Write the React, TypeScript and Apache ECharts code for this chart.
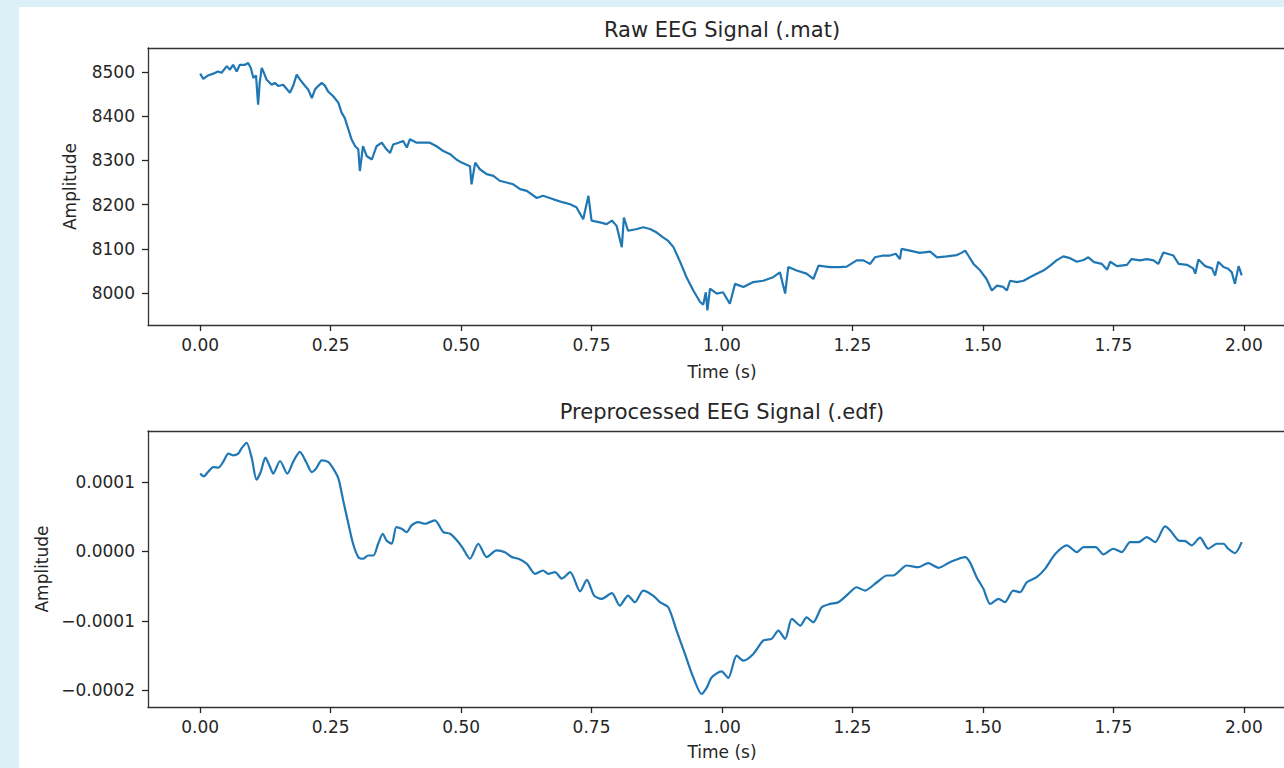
import React, { useEffect, useRef } from "react";
import * as echarts from "echarts";

// ---- Raw EEG signal (.mat) ----
const rawTime = [
  0.000, 0.006, 0.015, 0.025, 0.034, 0.041, 0.051, 0.057, 0.063, 0.070, 0.076, 0.086, 0.092, 0.097,
  0.102, 0.107, 0.111, 0.114, 0.118, 0.121, 0.127, 0.137, 0.143, 0.150, 0.159, 0.172, 0.178, 0.185,
  0.191, 0.201, 0.207, 0.214, 0.220, 0.226, 0.233, 0.239, 0.245, 0.255, 0.265, 0.271, 0.277, 0.284,
  0.290, 0.297, 0.303, 0.306, 0.312, 0.319, 0.329, 0.338, 0.348, 0.357, 0.364, 0.370, 0.380, 0.389,
  0.396, 0.402, 0.415, 0.427, 0.440, 0.453, 0.466, 0.479, 0.491, 0.501, 0.517, 0.520, 0.527, 0.536,
  0.549, 0.562, 0.574, 0.587, 0.600, 0.613, 0.626, 0.645, 0.657, 0.677, 0.696, 0.709, 0.721, 0.734,
  0.744, 0.750, 0.766, 0.779, 0.789, 0.798, 0.808, 0.812, 0.820, 0.837, 0.849, 0.862, 0.875, 0.887,
  0.897, 0.907, 0.920, 0.932, 0.945, 0.958, 0.964, 0.969, 0.972, 0.977, 0.990, 1.002, 1.015, 1.025,
  1.041, 1.060, 1.079, 1.098, 1.111, 1.121, 1.127, 1.143, 1.162, 1.175, 1.185, 1.207, 1.226, 1.239,
  1.258, 1.271, 1.284, 1.293, 1.309, 1.322, 1.333, 1.341, 1.344, 1.360, 1.379, 1.399, 1.412, 1.431,
  1.450, 1.459, 1.466, 1.472, 1.482, 1.495, 1.507, 1.517, 1.527, 1.539, 1.546, 1.552, 1.565, 1.578,
  1.590, 1.603, 1.616, 1.629, 1.641, 1.654, 1.667, 1.680, 1.693, 1.702, 1.713, 1.728, 1.738, 1.744,
  1.757, 1.776, 1.785, 1.801, 1.814, 1.827, 1.836, 1.846, 1.865, 1.875, 1.891, 1.903, 1.907, 1.913,
  1.926, 1.939, 1.945, 1.951, 1.961, 1.970, 1.977, 1.983, 1.990, 1.996,
];
const rawAmplitude = [
  8496, 8484, 8492, 8496, 8501, 8498, 8513, 8505, 8516, 8501, 8516, 8516, 8520, 8509,
  8486, 8492, 8426, 8475, 8509, 8501, 8483, 8471, 8475, 8468, 8471, 8453, 8468, 8494,
  8483, 8468, 8460, 8441, 8460, 8468, 8475, 8469, 8456, 8445, 8430, 8408, 8396, 8370,
  8348, 8332, 8325, 8276, 8332, 8310, 8302, 8332, 8340, 8325, 8317, 8336, 8340, 8344,
  8329, 8348, 8340, 8340, 8340, 8332, 8321, 8314, 8302, 8295, 8287, 8246, 8295, 8280,
  8269, 8265, 8254, 8250, 8246, 8235, 8231, 8215, 8220, 8212, 8205, 8201, 8194, 8167,
  8220, 8164, 8160, 8156, 8164, 8152, 8104, 8171, 8141, 8145, 8149, 8145, 8137, 8126,
  8118, 8104, 8070, 8036, 8006, 7980, 7974, 8002, 7961, 8010, 7999, 8002, 7976, 8021,
  8014, 8025, 8028, 8036, 8047, 7999, 8059, 8051, 8044, 8032, 8062, 8059, 8059, 8060,
  8074, 8074, 8066, 8081, 8085, 8085, 8089, 8077, 8100, 8096, 8091, 8094, 8081, 8083,
  8086, 8091, 8096, 8085, 8066, 8051, 8032, 8006, 8017, 8014, 8006, 8028, 8025, 8028,
  8036, 8044, 8051, 8062, 8074, 8083, 8079, 8071, 8075, 8081, 8070, 8066, 8053, 8071,
  8061, 8064, 8077, 8074, 8077, 8074, 8066, 8092, 8085, 8066, 8064, 8056, 8044, 8076,
  8061, 8056, 8040, 8071, 8059, 8055, 8047, 8021, 8061, 8040,
];

// ---- Preprocessed EEG signal (.edf) ----
const procTime = [
  0.000, 0.007, 0.015, 0.025, 0.035, 0.044, 0.054, 0.063, 0.073, 0.079, 0.089, 0.099, 0.108, 0.116,
  0.125, 0.134, 0.140, 0.153, 0.167, 0.178, 0.191, 0.203, 0.214, 0.222, 0.233, 0.245, 0.255, 0.265,
  0.274, 0.284, 0.293, 0.303, 0.312, 0.322, 0.332, 0.341, 0.350, 0.357, 0.367, 0.376, 0.386, 0.396,
  0.405, 0.418, 0.431, 0.440, 0.450, 0.466, 0.479, 0.495, 0.504, 0.517, 0.533, 0.549, 0.568, 0.584,
  0.597, 0.610, 0.626, 0.642, 0.657, 0.667, 0.680, 0.693, 0.709, 0.728, 0.741, 0.755, 0.769, 0.789,
  0.804, 0.820, 0.833, 0.849, 0.868, 0.881, 0.897, 0.913, 0.929, 0.945, 0.961, 0.971, 0.980, 0.999,
  1.012, 1.028, 1.041, 1.060, 1.079, 1.095, 1.108, 1.121, 1.134, 1.150, 1.162, 1.175, 1.191, 1.207,
  1.223, 1.242, 1.258, 1.274, 1.297, 1.316, 1.328, 1.354, 1.376, 1.395, 1.415, 1.437, 1.466, 1.475,
  1.488, 1.501, 1.514, 1.530, 1.542, 1.558, 1.571, 1.584, 1.603, 1.619, 1.639, 1.661, 1.680, 1.693,
  1.716, 1.731, 1.750, 1.766, 1.782, 1.798, 1.814, 1.830, 1.849, 1.859, 1.875, 1.888, 1.900, 1.916,
  1.932, 1.948, 1.961, 1.970, 1.983, 1.996,
];
const procAmplitude = [
  1.121e-4, 1.082e-4, 1.144e-4, 1.216e-4, 1.208e-4, 1.289e-4, 1.41e-4, 1.385e-4, 1.41e-4, 1.482e-4,
  1.563e-4, 1.338e-4, 1.035e-4, 1.144e-4, 1.352e-4, 1.216e-4, 1.121e-4, 1.303e-4, 1.121e-4, 1.289e-4,
  1.433e-4, 1.289e-4, 1.144e-4, 1.193e-4, 1.313e-4, 1.289e-4, 1.193e-4, 1.049e-4, 0.736e-4, 0.399e-4,
  0.111e-4, -0.081e-4, -0.105e-4, -0.058e-4, -0.058e-4, 0.111e-4, 0.255e-4, 0.159e-4, 0.111e-4, 0.351e-4,
  0.327e-4, 0.279e-4, 0.375e-4, 0.423e-4, 0.399e-4, 0.423e-4, 0.447e-4, 0.279e-4, 0.255e-4, 0.134e-4,
  0.039e-4, -0.105e-4, 0.111e-4, -0.081e-4, 0.015e-4, -0.01e-4, -0.081e-4, -0.105e-4, -0.177e-4, -0.322e-4,
  -0.274e-4, -0.322e-4, -0.298e-4, -0.39e-4, -0.298e-4, -0.575e-4, -0.41e-4, -0.635e-4, -0.683e-4, -0.6e-4,
  -0.779e-4, -0.635e-4, -0.731e-4, -0.563e-4, -0.635e-4, -0.731e-4, -0.804e-4, -1.14e-4, -1.476e-4, -1.814e-4,
  -2.053e-4, -1.958e-4, -1.814e-4, -1.727e-4, -1.823e-4, -1.5e-4, -1.573e-4, -1.476e-4, -1.284e-4, -1.26e-4,
  -1.14e-4, -1.26e-4, -0.971e-4, -1.068e-4, -0.948e-4, -1.02e-4, -0.804e-4, -0.755e-4, -0.731e-4, -0.611e-4,
  -0.515e-4, -0.563e-4, -0.443e-4, -0.346e-4, -0.346e-4, -0.202e-4, -0.226e-4, -0.168e-4, -0.235e-4, -0.154e-4,
  -0.081e-4, -0.154e-4, -0.37e-4, -0.538e-4, -0.755e-4, -0.683e-4, -0.731e-4, -0.563e-4, -0.587e-4, -0.443e-4,
  -0.37e-4, -0.25e-4, -0.034e-4, 0.087e-4, -0.01e-4, 0.063e-4, 0.063e-4, -0.043e-4, 0.039e-4, -0.01e-4,
  0.134e-4, 0.134e-4, 0.207e-4, 0.134e-4, 0.361e-4, 0.303e-4, 0.159e-4, 0.149e-4, 0.087e-4, 0.198e-4,
  0.039e-4, 0.111e-4, 0.111e-4, 0.039e-4, -0.024e-4, 0.134e-4,
];

// ---- Ticks ----
const timeTicks = [0, 0.25, 0.5, 0.75, 1.0, 1.25, 1.5, 1.75, 2.0];
const rawTicks = [8000, 8100, 8200, 8300, 8400, 8500];
const procTicks = [-0.0002, -0.0001, 0, 0.0001];

const titles = ["Raw EEG Signal (.mat)", "Preprocessed EEG Signal (.edf)"];
const xName = "Time (s)";
const yName = "Amplitude";

const FONT = "DejaVu Sans";
const INK = "#262626";
const SPINE = "#333333";
const LINE = "#1f77b4";

// the white figure sits at (19, 7) on the light-blue page
const OX = 19;
const OY = 7;

export default function App() {
  const ref = useRef<HTMLDivElement>(null);

  useEffect(() => {
    if (!ref.current) return;
    const chart = echarts.init(ref.current, undefined, { renderer: "svg" });

    const fmtProc = (v: number) => {
      if (Math.abs(v) < 1e-12) return "0.0000";
      return (v < 0 ? "\u2212" : "") + Math.abs(v).toFixed(4);
    };

    const tickStyle = { color: INK, width: 1.3 };
    const spineLine = { show: true, onZero: false, lineStyle: { color: SPINE, width: 1.3 } };

    const mainX = (gridIndex: number, nameGap: number) => ({
      type: "value",
      gridIndex,
      position: "bottom",
      min: -0.1,
      max: 2.1,
      name: xName,
      nameLocation: "middle",
      nameGap,
      nameTextStyle: { fontFamily: FONT, fontSize: 17, color: INK },
      axisLine: spineLine,
      splitLine: { show: false },
      axisTick: { show: true, length: 6, customValues: timeTicks, lineStyle: tickStyle },
      axisLabel: {
        customValues: timeTicks,
        margin: 11,
        fontFamily: FONT,
        fontSize: 17,
        color: INK,
        formatter: (v: number) => v.toFixed(2),
      },
    });

    const frameX = (gridIndex: number) => ({
      type: "value",
      gridIndex,
      position: "top",
      min: -0.1,
      max: 2.1,
      axisLine: spineLine,
      axisTick: { show: false },
      axisLabel: { show: false },
      splitLine: { show: false },
    });

    const mainY = (gridIndex: number, min: number, max: number, ticks: number[], nameGap: number, fmt: any) => ({
      type: "value",
      gridIndex,
      min,
      max,
      name: yName,
      nameLocation: "middle",
      nameGap,
      nameTextStyle: { fontFamily: FONT, fontSize: 17, color: INK },
      axisLine: spineLine,
      splitLine: { show: false },
      axisTick: { show: true, length: 6, customValues: ticks, lineStyle: tickStyle },
      axisLabel: {
        customValues: ticks,
        margin: 13,
        fontFamily: FONT,
        fontSize: 17,
        color: INK,
        formatter: fmt,
      },
    });

    const titleText = (text: string, y: number) => ({
      type: "text",
      x: 722 - OX,
      y: y - OY,
      style: {
        text,
        textAlign: "center",
        textVerticalAlign: "middle",
        fontFamily: FONT,
        fontSize: 21,
        fill: INK,
      },
    });

    const option: any = {
      animation: false,
      backgroundColor: "#ffffff",
      graphic: [titleText(titles[0], 30), titleText(titles[1], 412)],
      grid: [
        { left: 148 - OX, top: 48 - OY, width: 1148, height: 277, show: false, outerBoundsMode: "none" },
        { left: 148 - OX, top: 431 - OY, width: 1148, height: 276, show: false, outerBoundsMode: "none" },
      ],
      xAxis: [mainX(0, 38), mainX(1, 36), frameX(0), frameX(1)],
      yAxis: [
        mainY(0, 7928, 8554, rawTicks, 70, (v: number) => String(Math.round(v))),
        mainY(1, -0.000224, 0.0001735, procTicks, 93, fmtProc),
      ],
      series: [
        {
          type: "line",
          xAxisIndex: 0,
          yAxisIndex: 0,
          data: rawTime.map((t, i) => [t, rawAmplitude[i]]),
          showSymbol: false,
          lineStyle: { color: LINE, width: 2.2 },
          itemStyle: { color: LINE },
        },
        {
          type: "line",
          xAxisIndex: 1,
          yAxisIndex: 1,
          data: procTime.map((t, i) => [t, procAmplitude[i]]),
          showSymbol: false,
          smooth: 0.25,
          lineStyle: { color: LINE, width: 2.2 },
          itemStyle: { color: LINE },
        },
      ],
    };

    chart.setOption(option);
    return () => chart.dispose();
  }, []);

  return (
    <div
      style={{
        position: "absolute",
        left: 0,
        top: 0,
        width: 1284,
        height: 768,
        overflow: "hidden",
        background: "#dcf0f8",
      }}
    >
      <div
        ref={ref}
        style={{ position: "absolute", left: OX, top: OY, width: 1320, height: 768 - OY }}
      />
    </div>
  );
}
